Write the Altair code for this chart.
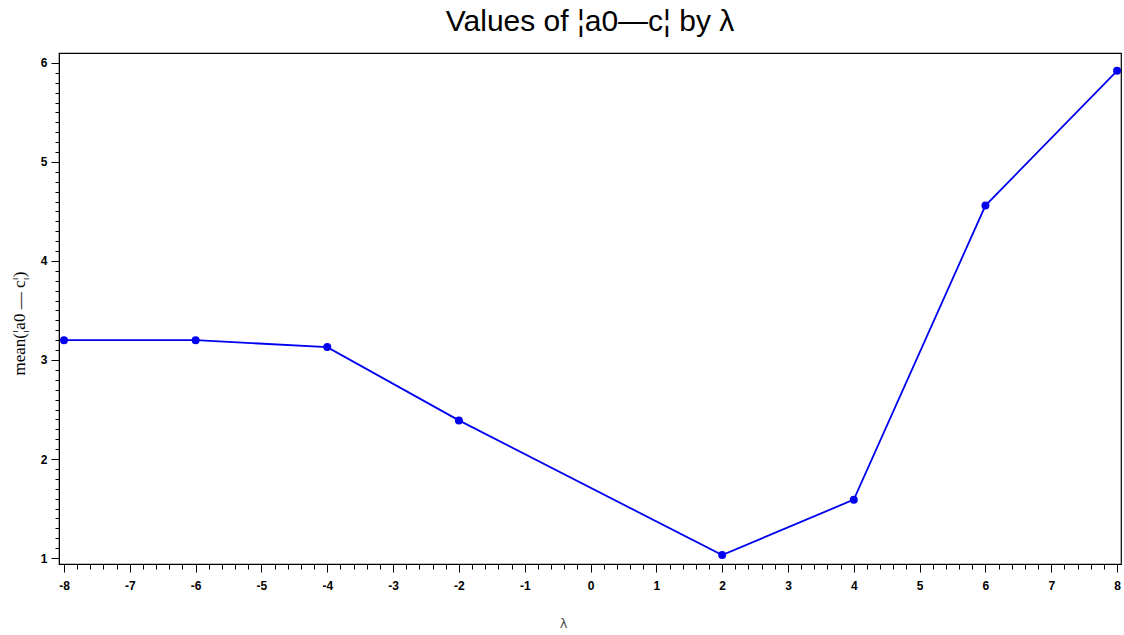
import altair as alt
import numpy as np
import pandas as pd

# mean |a0 - c| for each lambda
lam = [-8, -6, -4, -2, 2, 4, 6, 8]
mean_abs = [3.20, 3.20, 3.13, 2.39, 1.03, 1.59, 4.56, 5.92]

x_major = list(range(-8, 9))
y_major = [1, 2, 3, 4, 5, 6]
x_minor = [round(v, 2) for v in np.arange(-8, 8.001, 0.2)]
y_minor = [round(v, 2) for v in np.arange(1, 6.001, 0.1)]

df = pd.DataFrame({"lam": lam, "m": mean_abs})

x_dom = [-8.076, 8.06]
y_dom = [0.94, 6.10]
BLUE = "#0000f0"

tick_font = "Liberation Sans"

x_scale = alt.Scale(domain=x_dom, nice=False, zero=False)
y_scale = alt.Scale(domain=y_dom, nice=False, zero=False)

main = alt.Chart(df).mark_line(
    color=BLUE, strokeWidth=1.8,
    point=alt.OverlayMarkDef(filled=True, color=BLUE, size=64, opacity=1),
).encode(
    x=alt.X("lam:Q", scale=x_scale,
            axis=alt.Axis(values=x_major, title="λ", orient="bottom",
                          tickSize=8, tickColor="black", domainColor="black",
                          labelFont=tick_font, labelFontWeight="bold", labelFontSize=12,
                          labelColor="black", labelPadding=8,
                          labelExpr="replace(datum.label, '−', '-')",
                          titleFont="DejaVu Sans", titleFontWeight="normal", titleFontSize=13,
                          titleColor="#555555", titlePadding=26, titleX=504,
                          grid=False)),
    y=alt.Y("m:Q", scale=y_scale,
            axis=alt.Axis(values=y_major, title="mean(¦a0  —  c¦)", orient="left",
                          tickSize=8, tickColor="black", domainColor="black",
                          labelFont=tick_font, labelFontWeight="bold", labelFontSize=12,
                          labelColor="black", labelPadding=4,
                          titleFont="Liberation Serif", titleFontWeight="normal", titleFontSize=17,
                          titleColor="black", titlePadding=12, titleY=270, grid=False)),
)

minor = alt.Chart(df).mark_point(opacity=0).encode(
    x=alt.X("lam:Q", scale=x_scale,
            axis=alt.Axis(values=x_minor, labels=False, title=None, orient="bottom",
                          tickSize=5, tickColor="black", domain=False, grid=False)),
    y=alt.Y("m:Q", scale=y_scale,
            axis=alt.Axis(values=y_minor, labels=False, title=None, orient="left",
                          tickSize=4, tickColor="black", domain=False, grid=False)),
)

chart = alt.layer(main, minor).resolve_axis(x="independent", y="independent").properties(
    width=1062,
    height=511,
    padding={"left": 59, "top": 53, "right": 3, "bottom": 71},
    autosize=alt.AutoSizeParams(type="none"),
    title=alt.TitleParams(
        "Values of ¦a0—c¦ by λ",
        font="Liberation Sans Narrow, Liberation Sans",
        fontSize=30, fontWeight="normal", color="black",
        anchor="middle", offset=16,
    ),
).configure_view(stroke="black", strokeWidth=1.2)

chart.save("out.html", embed_options={"renderer": "svg", "actions": False})
